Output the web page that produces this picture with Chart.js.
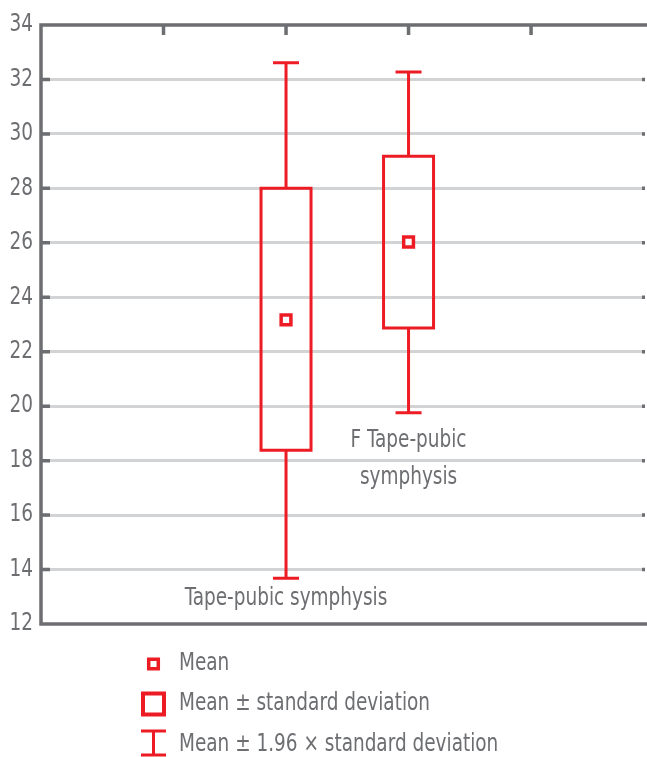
<!DOCTYPE html>
<html>
<head>
<meta charset="utf-8">
<script src="https://cdn.jsdelivr.net/npm/chart.js@4/dist/chart.umd.min.js"></script>
<style>
html,body{margin:0;padding:0;background:#fff;}
#wrap{width:647px;height:757px;position:relative;}
</style>
</head>
<body>
<div id="wrap"><canvas id="c" width="647" height="757"></canvas></div>
<script>
// ---- data ----
const categories = ['Tape-pubic symphysis', 'F Tape-pubic symphysis'];
const categoryLines = [['Tape-pubic symphysis'], ['F Tape-pubic', 'symphysis']];
const xPositions = [2, 3];
const means = [23.17, 26.03];
const sdLow = [18.38, 22.87];
const sdHigh = [28.0, 29.18];
const ciLow = [13.68, 19.76];
const ciHigh = [32.61, 32.27];
const yMin = 12, yMax = 34, yStep = 2;
const topTickValues = [1, 2, 3, 4];
const legendLabels = ['Mean', 'Mean \u00B1 standard deviation', 'Mean \u00B1 1.96 \u00D7 standard deviation'];

const RED = '#ed1c24';
const AXIS = '#6d6e71';
const GRID = '#d1d3d4';
const FONT = "'DejaVu Sans Condensed', 'Liberation Sans Narrow', sans-serif";
const SQUEEZE = 0.855;

function condText(ctx, t, x, y) {
  ctx.save();
  ctx.translate(x, y);
  ctx.scale(SQUEEZE, 1);
  ctx.fillText(t, 0, 0);
  ctx.restore();
}

const boxPlugin = {
  id: 'boxPlugin',
  beforeDatasetsDraw(chart) {
    const ctx = chart.ctx, x = chart.scales.x, y = chart.scales.y, ca = chart.chartArea;
    ctx.save();
    // borders
    ctx.strokeStyle = AXIS; ctx.lineWidth = 3.5; ctx.lineCap = 'butt';
    const top = y.getPixelForValue(yMax), bot = y.getPixelForValue(yMin);
    ctx.beginPath();
    ctx.moveTo(ca.left - 1.75, top); ctx.lineTo(chart.width, top);
    ctx.moveTo(ca.left - 1.75, bot); ctx.lineTo(chart.width, bot);
    ctx.moveTo(ca.left, top - 1.75); ctx.lineTo(ca.left, bot + 1.75);
    ctx.stroke();
    // inward ticks on top
    ctx.beginPath();
    topTickValues.forEach(v => {
      const px = x.getPixelForValue(v);
      ctx.moveTo(px, top); ctx.lineTo(px, top + 10);
    });
    // inward ticks left and right
    for (let v = yMin + yStep; v < yMax; v += yStep) {
      const py = y.getPixelForValue(v);
      ctx.moveTo(ca.left, py); ctx.lineTo(ca.left + 9, py);
      ctx.moveTo(ca.right - 3, py); ctx.lineTo(ca.right, py);
    }
    ctx.stroke();
    // y tick labels from the library's ticks
    ctx.fillStyle = AXIS; ctx.font = '24px ' + FONT;
    ctx.textAlign = 'right'; ctx.textBaseline = 'middle';
    y.ticks.forEach(t => condText(ctx, String(t.value), 33, y.getPixelForValue(t.value)));
    // boxes and whiskers
    ctx.strokeStyle = RED; ctx.lineWidth = 3;
    xPositions.forEach((xv, i) => {
      const cx = x.getPixelForValue(xv);
      const bw = 25, cw = 13;
      const yT = y.getPixelForValue(sdHigh[i]), yB = y.getPixelForValue(sdLow[i]);
      const wT = y.getPixelForValue(ciHigh[i]), wB = y.getPixelForValue(ciLow[i]);
      ctx.beginPath();
      ctx.rect(cx - bw, yT, bw * 2, yB - yT);
      ctx.moveTo(cx, yT); ctx.lineTo(cx, wT);
      ctx.moveTo(cx - cw, wT); ctx.lineTo(cx + cw, wT);
      ctx.moveTo(cx, yB); ctx.lineTo(cx, wB);
      ctx.moveTo(cx - cw, wB); ctx.lineTo(cx + cw, wB);
      ctx.stroke();
    });
    // category labels
    ctx.textAlign = 'center';
    const offs = [21, 28];
    xPositions.forEach((xv, i) => {
      const cx = x.getPixelForValue(xv);
      const wB = y.getPixelForValue(ciLow[i]);
      categoryLines[i].forEach((line, j) => {
        condText(ctx, line, cx, wB + offs[i] + j * 37);
      });
    });
    // legend
    const lx = 153.5, tx = 179;
    const rows = [664, 704, 745];
    ctx.textAlign = 'left';
    legendLabels.forEach((t, i) => condText(ctx, t, tx, rows[i]));
    ctx.strokeStyle = RED; ctx.lineWidth = 3.5;
    ctx.beginPath();
    ctx.rect(lx - 4.8, rows[0] - 4.8, 9.6, 9.6);
    ctx.stroke();
    ctx.lineWidth = 4;
    ctx.beginPath();
    ctx.rect(lx - 10.5, rows[1] - 10.5, 21, 21);
    ctx.stroke();
    ctx.lineWidth = 3;
    ctx.beginPath();
    ctx.moveTo(lx - 12.5, rows[2] - 14); ctx.lineTo(lx + 12.5, rows[2] - 14);
    ctx.moveTo(lx, rows[2] - 14); ctx.lineTo(lx, rows[2] + 10);
    ctx.moveTo(lx - 12.5, rows[2] + 10); ctx.lineTo(lx + 12.5, rows[2] + 10);
    ctx.stroke();
    ctx.restore();
  }
};

new Chart(document.getElementById('c'), {
  type: 'scatter',
  data: {
    datasets: [{
      label: 'Mean',
      data: xPositions.map((xv, i) => ({x: xv, y: means[i]})),
      pointStyle: 'rect',
      pointRadius: 6.9,
      pointBorderWidth: 3.5,
      pointBorderColor: RED,
      pointBackgroundColor: '#fff'
    }]
  },
  options: {
    responsive: false,
    animation: false,
    devicePixelRatio: 1,
    layout: {autoPadding: false, padding: {left: 0, top: 25, right: 2, bottom: 133}},
    plugins: {legend: {display: false}, tooltip: {enabled: false}},
    scales: {
      x: {type: 'linear', min: 0, max: 4.93, display: false},
      y: {
        type: 'linear', min: yMin, max: yMax,
        afterFit(s) { s.width = 41; },
        border: {display: false},
        grid: {
          drawTicks: false, lineWidth: 3,
          color: c => (c.tick && (c.tick.value === yMin || c.tick.value === yMax)) ? 'rgba(0,0,0,0)' : GRID
        },
        ticks: {stepSize: yStep, display: false}
      }
    }
  },
  plugins: [boxPlugin]
});
</script>
</body>
</html>
